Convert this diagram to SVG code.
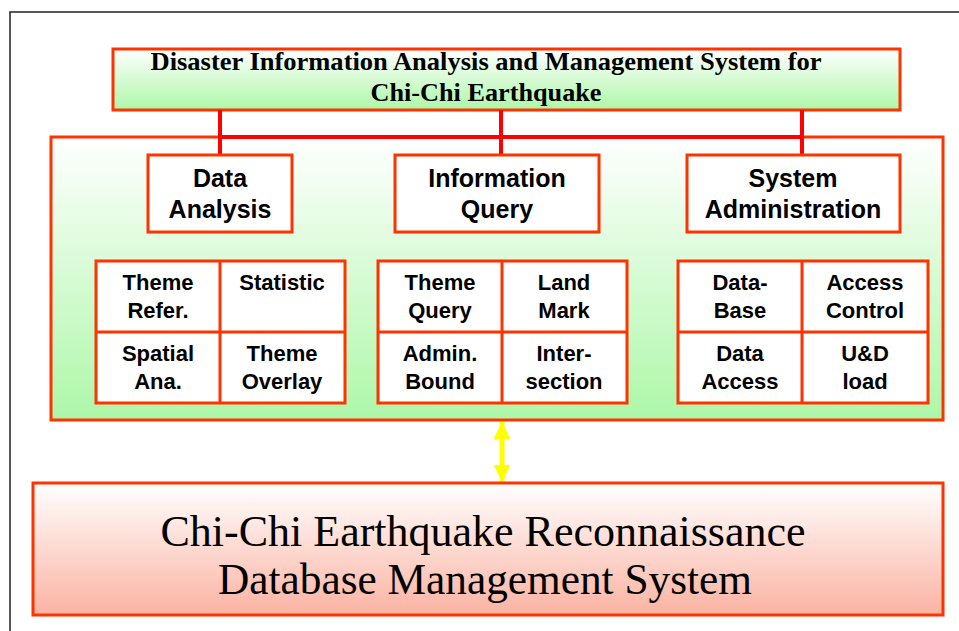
<svg xmlns="http://www.w3.org/2000/svg" width="959" height="631" viewBox="0 0 959 631">
<defs>
<linearGradient id="gGreen" x1="0" y1="0" x2="0" y2="1">
<stop offset="0" stop-color="#ffffff"/>
<stop offset="1" stop-color="#adf7a8"/>
</linearGradient>
<linearGradient id="gRed" x1="0" y1="0" x2="0" y2="1">
<stop offset="0" stop-color="#ffffff"/>
<stop offset="1" stop-color="#fbb3a2"/>
</linearGradient>
<marker id="ya" viewBox="0 0 17 17" refX="17" refY="8.5" markerWidth="17" markerHeight="17" orient="auto-start-reverse" markerUnits="userSpaceOnUse">
<path d="M0,0 L17,8.5 L0,17 Z" fill="#ffff00"/>
</marker>
<style>
.box{stroke:#ff3300;stroke-width:3;fill:#ffffff}
.grid{stroke:#ff3300;stroke-width:3;fill:none}
.lbl{font-family:"Liberation Sans",Arial,sans-serif;font-weight:bold;font-size:25px;fill:#000;text-anchor:middle}
.cell{font-family:"Liberation Sans",Arial,sans-serif;font-weight:bold;font-size:22px;fill:#000;text-anchor:middle}
.conn{stroke:#ff0000;stroke-width:4;fill:none}
</style>
</defs>
<rect x="0" y="0" width="959" height="631" fill="#ffffff"/>
<rect x="10" y="12" width="960" height="630" fill="none" stroke="#222" stroke-width="1.5"/>

<g id="title">
<rect x="113" y="49" width="787" height="61" fill="url(#gGreen)" stroke="#ff3300" stroke-width="3"/>
<text x="486" y="70" font-family="'Liberation Serif','Times New Roman',serif" font-weight="bold" font-size="25" text-anchor="middle" textLength="671" lengthAdjust="spacingAndGlyphs">Disaster Information Analysis and Management System for</text>
<text x="486" y="101" font-family="'Liberation Serif','Times New Roman',serif" font-weight="bold" font-size="25" text-anchor="middle" textLength="231" lengthAdjust="spacingAndGlyphs">Chi-Chi Earthquake</text>
</g>

<g id="container">
<rect x="51" y="137" width="892" height="283" fill="url(#gGreen)" stroke="#ff3300" stroke-width="3"/>
</g>

<g id="connectors">
<path class="conn" d="M220,110 V155 M501,110 V155 M802,110 V155 M220,137 H802"/>
<line x1="502" y1="422" x2="502" y2="482" stroke="#ffff00" stroke-width="5" marker-start="url(#ya)" marker-end="url(#ya)"/>
</g>

<g id="data-analysis">
<rect class="box" x="148" y="155" width="144" height="77"/>
<text class="lbl" x="220" y="187">Data</text>
<text class="lbl" x="220" y="218">Analysis</text>
</g>
<g id="information-query">
<rect class="box" x="395" y="155" width="204" height="77"/>
<text class="lbl" x="497" y="187">Information</text>
<text class="lbl" x="497" y="218">Query</text>
</g>
<g id="system-administration">
<rect class="box" x="687" y="155" width="213" height="77"/>
<text class="lbl" x="793" y="187">System</text>
<text class="lbl" x="793" y="218">Administration</text>
</g>

<g id="grid-analysis">
<rect class="box" x="96" y="261" width="249" height="142"/>
<path class="grid" d="M220,261 V403 M96,332 H345"/>
<text class="cell" x="158" y="290">Theme</text>
<text class="cell" x="158" y="318">Refer.</text>
<text class="cell" x="282" y="290">Statistic</text>
<text class="cell" x="158" y="361">Spatial</text>
<text class="cell" x="158" y="389">Ana.</text>
<text class="cell" x="282" y="361">Theme</text>
<text class="cell" x="282" y="389">Overlay</text>
</g>

<g id="grid-query">
<rect class="box" x="378" y="261" width="249" height="142"/>
<path class="grid" d="M502,261 V403 M378,332 H627"/>
<text class="cell" x="440" y="290">Theme</text>
<text class="cell" x="440" y="318">Query</text>
<text class="cell" x="564" y="290">Land</text>
<text class="cell" x="564" y="318">Mark</text>
<text class="cell" x="440" y="361">Admin.</text>
<text class="cell" x="440" y="389">Bound</text>
<text class="cell" x="564" y="361">Inter-</text>
<text class="cell" x="564" y="389">section</text>
</g>

<g id="grid-admin">
<rect class="box" x="678" y="261" width="250" height="142"/>
<path class="grid" d="M802,261 V403 M678,332 H928"/>
<text class="cell" x="740" y="290">Data-</text>
<text class="cell" x="740" y="318">Base</text>
<text class="cell" x="865" y="290">Access</text>
<text class="cell" x="865" y="318">Control</text>
<text class="cell" x="740" y="361">Data</text>
<text class="cell" x="740" y="389">Access</text>
<text class="cell" x="865" y="361">U&amp;D</text>
<text class="cell" x="865" y="389">load</text>
</g>

<g id="database">
<rect x="33" y="483" width="910" height="132" fill="url(#gRed)" stroke="#ff3300" stroke-width="3"/>
<text x="483" y="546" font-family="'Liberation Serif','Times New Roman',serif" font-size="44" text-anchor="middle" textLength="645" lengthAdjust="spacingAndGlyphs">Chi-Chi Earthquake Reconnaissance</text>
<text x="485" y="594" font-family="'Liberation Serif','Times New Roman',serif" font-size="44" text-anchor="middle" textLength="534" lengthAdjust="spacingAndGlyphs">Database Management System</text>
</g>
</svg>
